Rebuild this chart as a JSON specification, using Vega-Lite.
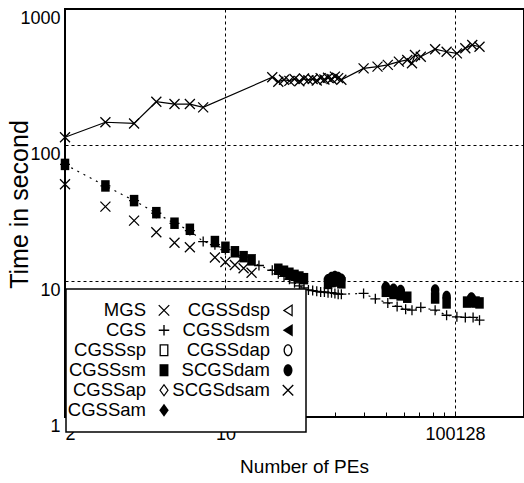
{
  "$schema": "https://vega.github.io/schema/vega-lite/v6.json",
  "width": 459,
  "height": 408,
  "autosize": {"type": "none"},
  "padding": {"left": 65, "top": 9, "right": 0, "bottom": 66},
  "background": "white",
  "config": {
    "font": "Liberation Sans",
    "view": {"stroke": "black", "strokeWidth": 2},
    "legend": {"strokeWidth": 1.5},
    "axis": {
      "labelFont": "Liberation Sans", "titleFont": "Liberation Sans",
      "labelColor": "black", "titleColor": "black", "titleFontWeight": "normal",
      "domain": false, "ticks": false,
      "gridColor": "black", "gridDash": [3, 3], "gridOpacity": 1, "gridWidth": 1
    }
  },
  "data": {"values": [
    {"s": "MGS", "x": 2, "y": 114}, {"s": "MGS", "x": 3, "y": 147}, {"s": "MGS", "x": 4, "y": 144},
    {"s": "MGS", "x": 5, "y": 208}, {"s": "MGS", "x": 6, "y": 200}, {"s": "MGS", "x": 7, "y": 200},
    {"s": "MGS", "x": 8, "y": 189}, {"s": "MGS", "x": 16, "y": 315}, {"s": "MGS", "x": 17, "y": 292},
    {"s": "MGS", "x": 18, "y": 302}, {"s": "MGS", "x": 19, "y": 296}, {"s": "MGS", "x": 20, "y": 306},
    {"s": "MGS", "x": 21, "y": 294}, {"s": "MGS", "x": 22, "y": 308}, {"s": "MGS", "x": 23, "y": 300},
    {"s": "MGS", "x": 24, "y": 306}, {"s": "MGS", "x": 25, "y": 298}, {"s": "MGS", "x": 26, "y": 310},
    {"s": "MGS", "x": 27, "y": 303}, {"s": "MGS", "x": 28, "y": 312}, {"s": "MGS", "x": 29, "y": 306},
    {"s": "MGS", "x": 30, "y": 318}, {"s": "MGS", "x": 31, "y": 310}, {"s": "MGS", "x": 32, "y": 302},
    {"s": "MGS", "x": 40, "y": 366}, {"s": "MGS", "x": 46, "y": 377}, {"s": "MGS", "x": 51, "y": 388},
    {"s": "MGS", "x": 57, "y": 410}, {"s": "MGS", "x": 62, "y": 422}, {"s": "MGS", "x": 65, "y": 399},
    {"s": "MGS", "x": 67, "y": 459}, {"s": "MGS", "x": 71, "y": 446}, {"s": "MGS", "x": 82, "y": 506},
    {"s": "MGS", "x": 92, "y": 485}, {"s": "MGS", "x": 102, "y": 472}, {"s": "MGS", "x": 111, "y": 514},
    {"s": "MGS", "x": 119, "y": 544}, {"s": "MGS", "x": 128, "y": 528},

    {"s": "CGS", "x": 2, "y": 72}, {"s": "CGS", "x": 3, "y": 50}, {"s": "CGS", "x": 4, "y": 39},
    {"s": "CGS", "x": 5, "y": 31.5}, {"s": "CGS", "x": 6, "y": 26.5}, {"s": "CGS", "x": 7, "y": 23.5},
    {"s": "CGS", "x": 8, "y": 19.5}, {"s": "CGS", "x": 9, "y": 18.5}, {"s": "CGS", "x": 10, "y": 17},
    {"s": "CGS", "x": 12, "y": 15}, {"s": "CGS", "x": 14, "y": 13}, {"s": "CGS", "x": 16, "y": 12},
    {"s": "CGS", "x": 17, "y": 11.3}, {"s": "CGS", "x": 18, "y": 10.8}, {"s": "CGS", "x": 19, "y": 10.3},
    {"s": "CGS", "x": 20, "y": 9.7}, {"s": "CGS", "x": 21, "y": 9.2}, {"s": "CGS", "x": 22, "y": 8.9},
    {"s": "CGS", "x": 23, "y": 8.6}, {"s": "CGS", "x": 24, "y": 8.5}, {"s": "CGS", "x": 25, "y": 8.4},
    {"s": "CGS", "x": 26, "y": 8.3}, {"s": "CGS", "x": 27, "y": 8.3}, {"s": "CGS", "x": 28, "y": 8.2},
    {"s": "CGS", "x": 29, "y": 8.2}, {"s": "CGS", "x": 30, "y": 8.1}, {"s": "CGS", "x": 31, "y": 8.0},
    {"s": "CGS", "x": 32, "y": 8.0}, {"s": "CGS", "x": 40, "y": 8.1}, {"s": "CGS", "x": 45, "y": 7.4},
    {"s": "CGS", "x": 51, "y": 6.9}, {"s": "CGS", "x": 56, "y": 6.5}, {"s": "CGS", "x": 61, "y": 6.2},
    {"s": "CGS", "x": 65, "y": 6.1}, {"s": "CGS", "x": 71, "y": 6.4}, {"s": "CGS", "x": 82, "y": 6.1},
    {"s": "CGS", "x": 92, "y": 5.6}, {"s": "CGS", "x": 102, "y": 5.45}, {"s": "CGS", "x": 111, "y": 5.4},
    {"s": "CGS", "x": 120, "y": 5.4}, {"s": "CGS", "x": 128, "y": 5.15},

    {"s": "CGSSsm", "x": 2, "y": 72}, {"s": "CGSSsm", "x": 3, "y": 50}, {"s": "CGSSsm", "x": 4, "y": 39},
    {"s": "CGSSsm", "x": 5, "y": 31.8}, {"s": "CGSSsm", "x": 6, "y": 26.6}, {"s": "CGSSsm", "x": 7, "y": 24},
    {"s": "CGSSsm", "x": 9, "y": 19.5}, {"s": "CGSSsm", "x": 10, "y": 17.7}, {"s": "CGSSsm", "x": 11, "y": 16.4},
    {"s": "CGSSsm", "x": 12, "y": 15.1}, {"s": "CGSSsm", "x": 13, "y": 14.3}, {"s": "CGSSsm", "x": 17, "y": 12.2},
    {"s": "CGSSsm", "x": 18, "y": 11.8}, {"s": "CGSSsm", "x": 19, "y": 11.4}, {"s": "CGSSsm", "x": 20, "y": 11.0},
    {"s": "CGSSsm", "x": 21, "y": 10.7}, {"s": "CGSSsm", "x": 22, "y": 10.4}, {"s": "CGSSsm", "x": 28, "y": 9.6},
    {"s": "CGSSsm", "x": 29, "y": 9.9}, {"s": "CGSSsm", "x": 30, "y": 10.1}, {"s": "CGSSsm", "x": 31, "y": 10.0},
    {"s": "CGSSsm", "x": 32, "y": 9.7}, {"s": "CGSSsm", "x": 50, "y": 8.4}, {"s": "CGSSsm", "x": 54, "y": 8.1},
    {"s": "CGSSsm", "x": 58, "y": 7.9}, {"s": "CGSSsm", "x": 62, "y": 7.6}, {"s": "CGSSsm", "x": 82, "y": 7.5},
    {"s": "CGSSsm", "x": 92, "y": 6.9}, {"s": "CGSSsm", "x": 113, "y": 7.0}, {"s": "CGSSsm", "x": 118, "y": 7.1},
    {"s": "CGSSsm", "x": 123, "y": 7.0}, {"s": "CGSSsm", "x": 128, "y": 6.9},

    {"s": "SCGSdam", "x": 28, "y": 10.2}, {"s": "SCGSdam", "x": 29, "y": 10.6}, {"s": "SCGSdam", "x": 30, "y": 10.8},
    {"s": "SCGSdam", "x": 31, "y": 10.6}, {"s": "SCGSdam", "x": 32, "y": 10.3}, {"s": "SCGSdam", "x": 50, "y": 9.0},
    {"s": "SCGSdam", "x": 54, "y": 8.7}, {"s": "SCGSdam", "x": 58, "y": 8.5}, {"s": "SCGSdam", "x": 82, "y": 8.6},
    {"s": "SCGSdam", "x": 92, "y": 7.7}, {"s": "SCGSdam", "x": 118, "y": 7.5},

    {"s": "SCGSdsam", "x": 2, "y": 51.4}, {"s": "SCGSdsam", "x": 3, "y": 35.2}, {"s": "SCGSdsam", "x": 4, "y": 27.8},
    {"s": "SCGSdsam", "x": 5, "y": 22.8}, {"s": "SCGSdsam", "x": 6, "y": 19.1}, {"s": "SCGSdsam", "x": 7, "y": 17.7},
    {"s": "SCGSdsam", "x": 9, "y": 14.9}, {"s": "SCGSdsam", "x": 10, "y": 13.8}, {"s": "SCGSdsam", "x": 11, "y": 13.1},
    {"s": "SCGSdsam", "x": 12, "y": 12.4}, {"s": "SCGSdsam", "x": 13, "y": 11.5}
  ]},
  "encoding": {
    "x": {
      "field": "x", "type": "quantitative",
      "scale": {"type": "log", "domain": [2, 200], "nice": false},
      "axis": {
        "values": [2, 3, 4, 5, 6, 7, 8, 9, 10, 20, 30, 40, 50, 60, 70, 80, 90, 100, 200],
        "labelExpr": "datum.value == 2 ? '2' : datum.value == 10 ? '10' : datum.value == 100 ? '100128' : ''",
        "labelOverlap": false,
        "ticks": true, "tickSize": -5, "tickColor": "black", "tickWidth": 1,
        "gridOpacity": {"condition": {"test": "datum.value == 10 || datum.value == 100", "value": 1}, "value": 0},
        "labelFontSize": 18, "labelPadding": 13,
        "title": "Number of PEs", "titleFontSize": 19,
        "titleX": 239, "titleY": 40, "titleAlign": "center", "titleBaseline": "top"
      }
    },
    "y": {
      "field": "y", "type": "quantitative",
      "scale": {"type": "log", "domain": [1, 1000], "nice": false},
      "axis": {
        "values": [1, 10, 100, 1000], "format": "d",
        "labelFontSize": 18, "labelBaseline": "top", "labelPadding": 5,
        "title": "Time in second", "titleFontSize": 25,
        "titleX": -46, "titleY": 195, "titleAlign": "center", "titleBaseline": "middle"
      }
    }
  },
  "layer": [
    {
      "transform": [{"filter": "datum.s === 'MGS'"}],
      "mark": {"type": "line", "color": "black", "strokeWidth": 1.2}
    },
    {
      "transform": [{"filter": "datum.s === 'CGS'"}],
      "mark": {"type": "line", "color": "black", "strokeWidth": 1.2, "strokeDash": [2, 5]}
    },
    {
      "mark": {"type": "point", "filled": true, "color": "black", "strokeWidth": 0, "size": 100, "opacity": 1},
      "encoding": {
        "shape": {
          "field": "s", "type": "nominal",
          "scale": {
            "domain": ["MGS", "CGS", "CGSSsp", "CGSSsm", "CGSSap", "CGSSam", "CGSSdsp", "CGSSdsm", "CGSSdap", "SCGSdam", "SCGSdsam"],
            "range": [
              "M-0.91,-1.09L1.09,0.91L0.91,1.09L-1.09,-0.91ZM-1.09,0.91L0.91,-1.09L1.09,-0.91L-0.91,1.09Z",
              "M-1,-0.13H1V0.13H-1ZM0.13,-1V1H-0.13V-1Z",
              "M-0.85,-1.15H0.85V1.15H-0.85ZM-0.6,-0.9V0.9H0.6V-0.9Z",
              "M-0.85,-1.15H0.85V1.15H-0.85Z",
              "M0,-1.25L0.9,0L0,1.25L-0.9,0ZM0,-0.88L-0.62,0L0,0.88L0.62,0Z",
              "M0,-1.25L0.9,0L0,1.25L-0.9,0Z",
              "M-1,0L0.9,-1.2L0.9,1.2ZM-0.55,0L0.66,0.78L0.66,-0.78Z",
              "M-1,0L0.9,-1.2L0.9,1.2Z",
              "M-0.85,0A0.85,1.15 0 1,0 0.85,0A0.85,1.15 0 1,0 -0.85,0ZM-0.6,0A0.6,0.9 0 1,1 0.6,0A0.6,0.9 0 1,1 -0.6,0Z",
              "M-0.85,0A0.85,1.15 0 1,0 0.85,0A0.85,1.15 0 1,0 -0.85,0Z",
              "M-0.91,-1.09L1.09,0.91L0.91,1.09L-1.09,-0.91ZM-1.09,0.91L0.91,-1.09L1.09,-0.91L-0.91,1.09Z"
            ]
          },
          "legend": {
            "title": null,
            "orient": "none", "legendX": 1, "legendY": 280,
            "columns": 2, "labelAlign": "right", "labelOffset": -27.25, "symbolOffset": 76.75,
            "labelFontSize": 18.5, "labelFont": "Liberation Sans", "labelColor": "black", "labelLimit": 200,
            "symbolSize": 110, "symbolFillColor": "black", "symbolStrokeWidth": 0,
            "rowPadding": 1, "columnPadding": 2, "padding": 12,
            "strokeColor": "black", "fillColor": "white"
          }
        }
      }
    }
  ]
}
